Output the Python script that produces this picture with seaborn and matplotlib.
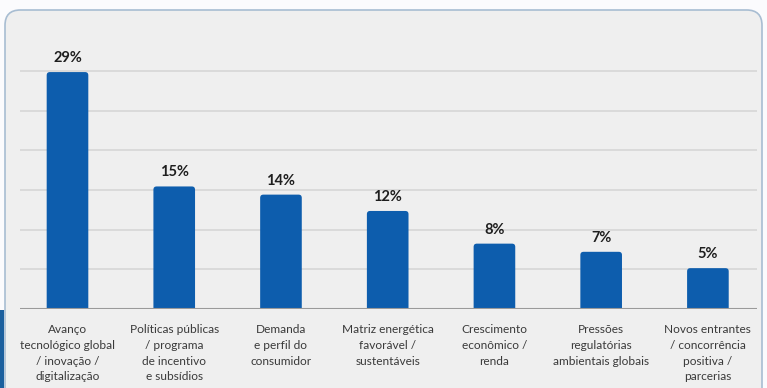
import matplotlib
matplotlib.use("Agg")
import matplotlib.pyplot as plt
import seaborn as sns
import pandas as pd
import numpy as np
from matplotlib.patches import FancyBboxPatch, Rectangle

categories = [
    "Avanço\ntecnológico global\n/ inovação /\ndigitalização",
    "Políticas públicas\n/ programa\nde incentivo\ne subsídios",
    "Demanda\ne perfil do\nconsumidor",
    "Matriz energética\nfavorável /\nsustentáveis",
    "Crescimento\neconômico /\nrenda",
    "Pressões\nregulatórias\nambientais globais",
    "Novos entrantes\n/ concorrência\npositiva /\nparcerias",
]
values = [29, 15, 14, 12, 8, 7, 5]
value_labels = ["29%", "15%", "14%", "12%", "8%", "7%", "5%"]

df = pd.DataFrame({"cat": categories, "val": values})

sns.set_theme(style="white")
plt.rcParams["font.family"] = ["Lato", "DejaVu Sans"]

W, H = 767, 388
fig = plt.figure(figsize=(W / 100, H / 100), dpi=100)
fig.patch.set_facecolor("#fbfbfd")

# background panel
panel = FancyBboxPatch((5 / W, -0.1), (762 - 5) / W, 1 - 10 / H + 0.1,
                       boxstyle="round,pad=0,rounding_size=0.02",
                       transform=fig.transFigure, facecolor="#efefef",
                       edgecolor="#a8bdd2", linewidth=1.2, zorder=-2,
                       mutation_aspect=W / H)
fig.patches.append(panel)
fig.patches.append(Rectangle((0, 0), 4 / W, 78 / H, transform=fig.transFigure,
                             facecolor="#1b5f9e", edgecolor="none", zorder=-1))

px_per = 8.17
base_y = 309
top_y = 40
ax_left, ax_right = 20, 757
ax = fig.add_axes([ax_left / W, 1 - base_y / H, (ax_right - ax_left) / W, (base_y - top_y) / H])
ax.set_facecolor("none")

sns.barplot(data=df, x="cat", y="val", ax=ax, color="#0d5dad", width=0.39,
            saturation=1, edgecolor="none", zorder=3)

ymax = (base_y - top_y) / px_per
ax.set_ylim(0, ymax)
ax.set_xlim(-0.445, 6.46)

# rounded tops: replace rectangles with rounded boxes of the same geometry
xunit = 106.8
for p in list(ax.patches):
    x, w, h = p.get_x(), p.get_width(), p.get_height()
    r = 0.03
    fb = FancyBboxPatch((x, -1), w, h + 1,
                        boxstyle=f"round,pad=0,rounding_size={r}",
                        mutation_aspect=xunit / px_per,
                        facecolor="#0d5dad", edgecolor="none", zorder=3)
    p.remove()
    ax.add_patch(fb)

for i, (v, lab) in enumerate(zip(values, value_labels)):
    ax.text(i, v + 14 / px_per, lab, ha="center", va="center", fontsize=10.5,
            fontweight="bold", color="#1e1e1e", zorder=4)

grid_step = 39.7 / px_per
for k in range(1, 7):
    ax.axhline(k * grid_step, color="#d6d6d6", linewidth=1.2, zorder=1)
ax.axhline(0, color="#9a9a9a", linewidth=1.5, zorder=4)

ax.set_yticks([])
ax.set_xlabel("")
ax.set_ylabel("")
ax.tick_params(axis="x", length=0, pad=11)
ax.set_xticks(range(len(categories)))
ax.set_xticklabels(categories, fontsize=8.6, color="#3a3a3a", linespacing=1.52, va="top")
for s in ax.spines.values():
    s.set_visible(False)

fig.savefig("out.png", dpi=100)
